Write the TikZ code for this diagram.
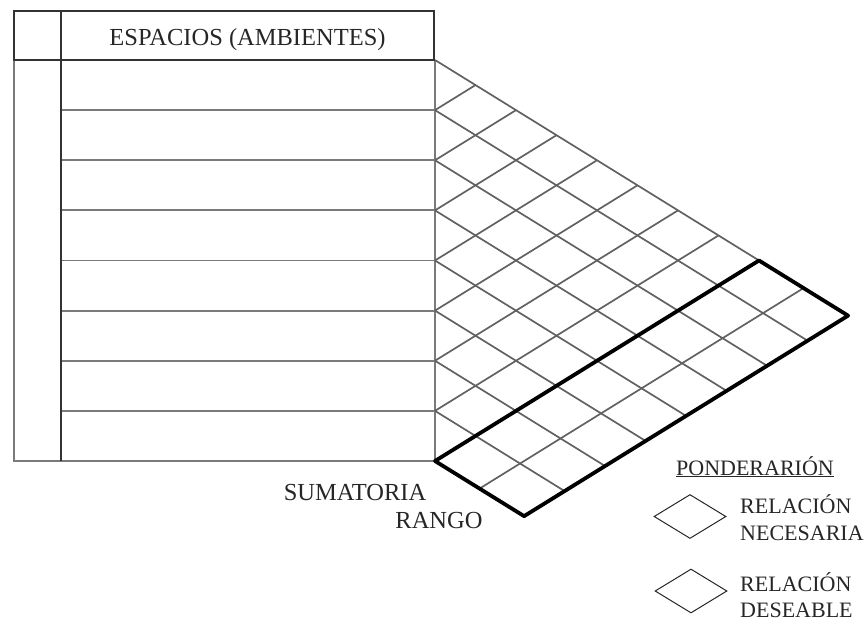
\documentclass[tikz,border=0pt]{standalone}
\usepackage{fontspec}
\setmainfont{Liberation Serif}
\usetikzlibrary{shapes.geometric}
\begin{document}
\begin{tikzpicture}[x=1pt,y=-1pt,
  gridline/.style={draw=black!62, line width=1.7pt},
  tabline/.style={draw=black!52, line width=1.9pt},
  headline/.style={draw=black!80, line width=2.4pt},
  thickline/.style={draw=black, line width=3.8pt, line join=round},
  lbl/.style={font=\fontsize{24.5}{26}\selectfont, inner sep=0pt, text=black!85},
  leg/.style={font=\fontsize{22}{24}\selectfont, inner sep=0pt, text=black!85},
  legdiam/.style={draw=black!85, line width=1pt, shape=diamond, minimum width=72pt, minimum height=44pt, inner sep=0pt}
]
\useasboundingbox (0,0) rectangle (867,621);
\def\gw{40.5}
\def\gh{50.125}
% row points on the right edge of the table
\foreach \k in {0,...,8}{
  \coordinate (P\k) at (435,{60+\gh*\k});
}
% table body
\draw[tabline] (14,60) -- (14,461) -- (435,461) -- (435,60);
\foreach \k in {1,...,7}{
  \draw[tabline] (61,{60+\gh*\k}) -- (P\k);
}
% header and divider
\draw[headline] (14,11) rectangle (434,60);
\draw[headline] (61,11) -- (61,461);
\node[lbl, anchor=base] (hdr) at (247.5,45) {ESPACIOS (AMBIENTES)};
% relationship grid
\foreach \k in {0,...,7}{
  % down-right lines, running through the summation strip
  \draw[gridline] (P\k) -- ++({(10.2-\k)*\gw},{(10.2-\k)*\gh/2});
}
\foreach \k in {1,...,7}{
  % up-right lines up to the top edge
  \draw[gridline] (P\k) -- ++({\k*\gw},{-\k*\gh/2});
}
% summation strip
\coordinate (A) at (P8);
\path (P8) ++({8*\gw},{-4*\gh}) coordinate (B);
\path (B) ++({2.2*\gw},{1.1*\gh}) coordinate (C);
\path (A) ++({2.2*\gw},{1.1*\gh}) coordinate (D);
\path (A) ++({1.1*\gw},{0.55*\gh}) coordinate (M1);
\path (B) ++({1.1*\gw},{0.55*\gh}) coordinate (M2);
\draw[gridline] (M1) -- (M2);
\draw[thickline] (A) -- (B) -- (C) -- (D) -- cycle;
\node[lbl, anchor=base] (sum) at (355,500) {SUMATORIA};
\node[lbl, anchor=base] (rango) at (439,528) {RANGO};
% legend
\node[leg, anchor=base] (pond) at (755,475) {\underline{PONDERARIÓN}};
\node[legdiam] (d1) at (690,516.5) {};
\node[legdiam] (d2) at (691,591) {};
\node[leg, anchor=base west] (r1) at (740,513) {RELACIÓN};
\node[leg, anchor=base west] (n1) at (740,540) {NECESARIA};
\node[leg, anchor=base west] (r2) at (740,591) {RELACIÓN};
\node[leg, anchor=base west] (n2) at (740,617) {DESEABLE};
\end{tikzpicture}
\end{document}
